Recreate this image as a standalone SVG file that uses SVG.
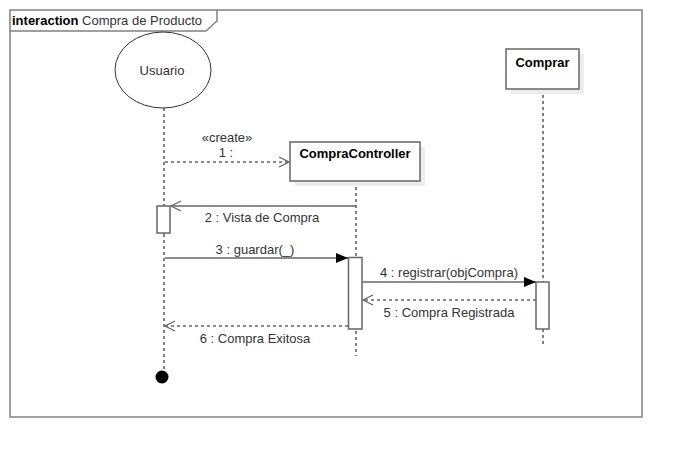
<svg xmlns="http://www.w3.org/2000/svg" width="682" height="458" viewBox="0 0 682 458">
<defs>
<style>
text{font-family:"Liberation Sans",Arial,sans-serif;font-size:13px;fill:#333}
.b{font-weight:bold;fill:#000}
.frame{fill:none;stroke:#808080;stroke-width:1.5}
.box{fill:#fff;stroke:#666;stroke-width:1.5}
.shadow{fill:#ededed}
.life{stroke:#000;stroke-width:1;stroke-dasharray:3,3;fill:none}
.msg{stroke:#666;stroke-width:1.5;fill:none}
.ret{stroke:#666;stroke-width:1.5;fill:none;stroke-dasharray:3,3}
</style>
<marker id="open" markerWidth="12" markerHeight="12" refX="11" refY="6" orient="auto" markerUnits="userSpaceOnUse">
<path d="M1,1 L11,6 L1,11" fill="none" stroke="#666" stroke-width="1.3"/>
</marker>
<marker id="fill" markerWidth="14" markerHeight="12" refX="13" refY="6" orient="auto" markerUnits="userSpaceOnUse">
<path d="M1,1 L13,6 L1,11 Z" fill="#000"/>
</marker>
</defs>
<rect width="682" height="458" fill="#fff"/>
<g id="frame">
<rect class="frame" x="10" y="10" width="632" height="407"/>
<path class="frame" d="M10,31 L206,31 L217,21 L217,10"/>
<text x="12" y="25"><tspan class="b">interaction</tspan> Compra de Producto</text>
</g>
<g id="lifelines">
<line class="life" x1="164" y1="108" x2="164" y2="371"/>
<line class="life" x1="356" y1="181" x2="356" y2="356"/>
<line class="life" x1="543" y1="89" x2="543" y2="344"/>
</g>
<g id="usuario">
<ellipse cx="163" cy="70" rx="48" ry="38" fill="#fff" stroke="#333" stroke-width="1"/>
<text x="162" y="75" text-anchor="middle">Usuario</text>
</g>
<g id="compraController">
<rect class="shadow" x="295" y="147" width="130" height="39"/>
<rect class="box" x="290" y="142" width="130" height="39"/>
<text class="b" x="355" y="158" text-anchor="middle">CompraController</text>
</g>
<g id="comprar">
<rect class="shadow" x="511" y="54" width="73" height="40"/>
<rect class="box" x="506" y="49" width="73" height="40"/>
<text class="b" x="542.5" y="67" text-anchor="middle">Comprar</text>
</g>
<g id="activations">
<rect class="box" x="157" y="206" width="13" height="27"/>
<rect class="box" x="348.5" y="257.5" width="13.5" height="71.5"/>
<rect class="box" x="536" y="282" width="13" height="47"/>
</g>
<g id="terminal">
<circle cx="162" cy="377" r="6.5" fill="#000"/>
</g>
<g id="connectors">
<line class="ret" x1="165" y1="162" x2="289" y2="162" marker-end="url(#open)"/>
<line class="msg" x1="356" y1="206" x2="171" y2="206" marker-end="url(#open)"/>
<line class="msg" x1="165" y1="258" x2="348" y2="258" marker-end="url(#fill)"/>
<line class="msg" x1="362" y1="282" x2="536" y2="282" marker-end="url(#fill)"/>
<line class="ret" x1="536" y1="300" x2="363" y2="300" marker-end="url(#open)"/>
<line class="ret" x1="348" y1="326" x2="165" y2="326" marker-end="url(#open)"/>
</g>
<g id="labels">
<text x="227" y="142" text-anchor="middle" font-size="12">«create»</text>
<text x="226" y="157" text-anchor="middle">1 :</text>
<text x="262" y="222" text-anchor="middle">2 : Vista de Compra</text>
<text x="255" y="254" text-anchor="middle">3 : guardar(_)</text>
<text x="449" y="277" text-anchor="middle">4 : registrar(objCompra)</text>
<text x="449" y="317" text-anchor="middle">5 : Compra Registrada</text>
<text x="255" y="343" text-anchor="middle">6 : Compra Exitosa</text>
</g>
</svg>
